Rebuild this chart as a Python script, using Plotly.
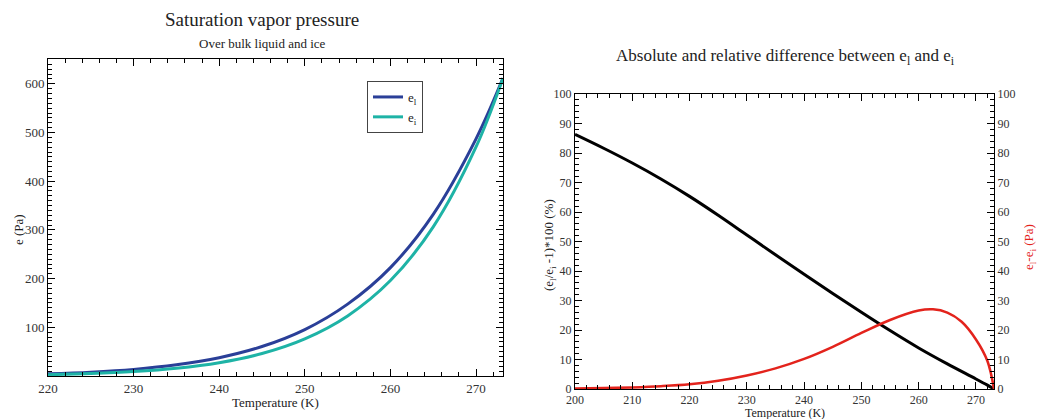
import plotly.graph_objects as go

# ---- Data ----
T_left = [220, 225, 230, 235, 240, 245, 250, 255, 260, 265, 270, 273.15]
e_ice = [2.7, 5.0, 9.0, 15.9, 27.4, 46.2, 76.3, 123.4, 196.0, 306.2, 470.3, 611.7]
e_liq = [4.4, 7.9, 13.6, 23.0, 37.6, 60.5, 95.3, 147.6, 222.6, 332.0, 487.0, 611.7]

T_rel = [200, 205, 210, 215, 220, 225, 230, 235, 240, 245, 250, 255, 260, 265, 270, 272, 273.15]
rel_diff = [86.3, 81.6, 76.6, 71.2, 65.3, 58.9, 52.2, 45.5, 38.9, 32.4, 26.0, 19.8, 13.9, 8.5, 3.4, 1.3, 0]

T_abs = [200, 205, 210, 215, 220, 225, 230, 235, 240, 245, 250, 255, 260, 262.5, 265, 267.5, 270, 272, 273.15]
abs_diff = [0.15, 0.3, 0.55, 0.95, 1.6, 2.8, 4.6, 7.0, 10.2, 14.3, 19.0, 23.4, 26.6, 27.0, 25.9, 22.8, 16.8, 9.5, 0]

left_yticks = [100, 200, 300, 400, 500, 600]
left_xticks = [220, 230, 240, 250, 260, 270]
right_xticks = [200, 210, 220, 230, 240, 250, 260, 270]
right_yticks = [0, 10, 20, 30, 40, 50, 60, 70, 80, 90, 100]

W, H = 1039, 419
FONT = "Liberation Serif"
BLUE = "#2a3f98"
TEAL = "#1eb3a6"
RED = "#e3231c"

def px(x):
    return x / W

def py(y):
    return 1 - y / H

fig = go.Figure()

fig.add_trace(go.Scatter(x=T_left, y=e_liq, mode="lines", name="e<sub>l</sub>",
                         line=dict(color=BLUE, width=3, shape="spline"),
                         xaxis="x", yaxis="y"))
fig.add_trace(go.Scatter(x=T_left, y=e_ice, mode="lines", name="e<sub>i</sub>",
                         line=dict(color=TEAL, width=3, shape="spline"),
                         xaxis="x", yaxis="y"))
fig.add_trace(go.Scatter(x=T_rel, y=rel_diff, mode="lines", showlegend=False,
                         line=dict(color="black", width=3, shape="spline"),
                         xaxis="x2", yaxis="y2"))
fig.add_trace(go.Scatter(x=T_abs, y=abs_diff, mode="lines", showlegend=False,
                         line=dict(color=RED, width=2.5, shape="spline"),
                         xaxis="x2", yaxis="y3"))

def axis_common(size=13):
    return dict(showgrid=False, zeroline=False, showline=True, linecolor="black",
                linewidth=1, ticks="inside", tickcolor="black", ticklen=7,
                automargin=False,
                tickfont=dict(family=FONT, size=size, color="#333"))

fig.update_layout(
    width=W, height=H,
    margin=dict(l=0, r=0, t=0, b=0),
    paper_bgcolor="white", plot_bgcolor="white",
    font=dict(family=FONT, color="#222"),
    showlegend=True,
    legend=dict(x=px(367), y=py(81), xanchor="left", yanchor="top",
                bordercolor="#444", borderwidth=1, bgcolor="white",
                font=dict(family=FONT, size=13, color="#222"),
                tracegroupgap=0, itemwidth=30),
    xaxis=dict(domain=[px(48), px(503)], range=[220, 273.15], anchor="y",
               tickvals=left_xticks, mirror="ticks",
               minor=dict(dtick=2, ticks="inside", ticklen=4, tickcolor="black"),
               **axis_common(13)),
    yaxis=dict(domain=[py(376), py(59)], range=[0, 651], anchor="x",
               tickvals=left_yticks, mirror="ticks",
               minor=dict(dtick=10, ticks="inside", ticklen=4, tickcolor="black"),
               **axis_common(13)),
    xaxis2=dict(domain=[px(575), px(994)], range=[200, 273.15], anchor="y2",
                tickvals=right_xticks, mirror="ticks",
                minor=dict(dtick=2, ticks="inside", ticklen=4, tickcolor="black"),
                **axis_common(12)),
    yaxis2=dict(domain=[py(389), py(94)], range=[0, 100], anchor="x2",
                tickvals=right_yticks,
                minor=dict(dtick=2, ticks="inside", ticklen=4, tickcolor="black"),
                **axis_common(12)),
    yaxis3=dict(range=[0, 100], overlaying="y2", side="right", anchor="x2",
                tickvals=right_yticks,
                minor=dict(dtick=2, ticks="inside", ticklen=4, tickcolor="black"),
                **axis_common(12)),
)

ann = [
    dict(text="Saturation vapor pressure", x=px(262), y=py(20), size=19),
    dict(text="Over bulk liquid and ice", x=px(262), y=py(44), size=13),
    dict(text="Absolute and relative difference between e<sub>l</sub> and e<sub>i</sub>",
         x=px(785), y=py(57), size=17),
    dict(text="Temperature (K)", x=px(275), y=py(402), size=13),
    dict(text="Temperature (K)", x=px(785), y=py(413), size=12),
]
for a in ann:
    fig.add_annotation(text=a["text"], x=a["x"], y=a["y"], xref="paper", yref="paper",
                       showarrow=False, xanchor="center", yanchor="middle",
                       font=dict(family=FONT, size=a["size"], color="#222"))

fig.add_annotation(text="e (Pa)", x=px(19), y=py(230), xref="paper", yref="paper",
                   showarrow=False, textangle=-90, xanchor="center", yanchor="middle",
                   font=dict(family=FONT, size=13, color="#222"))
fig.add_annotation(text="(e<sub>l</sub>/e<sub>i</sub> -1)*100 (%)", x=px(549), y=py(245),
                   xref="paper", yref="paper", showarrow=False, textangle=-90,
                   xanchor="center", yanchor="middle",
                   font=dict(family=FONT, size=13, color="#222"))
fig.add_annotation(text="e<sub>l</sub>-e<sub>i</sub> (Pa)", x=px(1029), y=py(247),
                   xref="paper", yref="paper", showarrow=False, textangle=-90,
                   xanchor="center", yanchor="middle",
                   font=dict(family=FONT, size=13, color=RED))

fig.write_html("out.html", config={"displayModeBar": False},
               post_script="document.body.style.margin='0';document.body.style.overflow='hidden';")
